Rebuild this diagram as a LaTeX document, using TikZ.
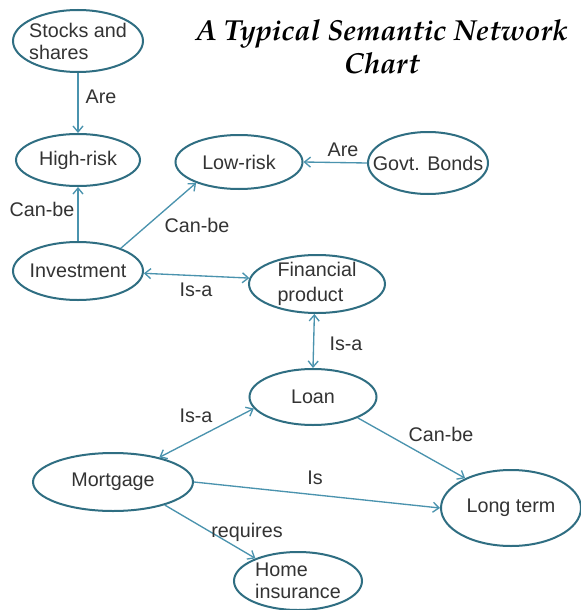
\documentclass[tikz,border=0pt]{standalone}
\usepackage{fontspec}
\newfontfamily\labfont{Liberation Sans}
\newfontfamily\titlefont{TeX Gyre Pagella}
\usetikzlibrary{arrows.meta,shapes.geometric}
\newdimen\pxl \pxl=0.75pt
\definecolor{edgeC}{HTML}{2F6E82}
\definecolor{arrC}{HTML}{4A93AE}
\definecolor{txtC}{HTML}{333333}
\begin{document}
\begin{tikzpicture}[x=0.75pt,y=-0.75pt,
  >={Straight Barb[length=4.5pt,width=7.5pt]},
  concept/.style={ellipse, draw=edgeC, line width=1.5pt, inner sep=0pt},
  lbl/.style={font=\labfont\fontsize{14.8}{16.5}\selectfont, text=txtC, inner sep=0pt, align=left},
  rel/.style={font=\labfont\fontsize{14.8}{16.5}\selectfont, text=txtC, inner sep=0pt},
  link/.style={draw=arrC, line width=1pt, ->},
  both/.style={draw=arrC, line width=1pt, <->}]
\useasboundingbox[fill=white] (0,0) rectangle (581,610);

% title
\node[font=\titlefont\bfseries\itshape\fontsize{21.7}{23.5}\selectfont, align=center, inner sep=0pt] (title) at (382,47) {A Typical Semantic Network\\[1pt]Chart};

% concepts
\node[concept, minimum width=130\pxl, minimum height=62\pxl] (ss) at (78,41) {};
\node[lbl] (ss-t) at (ss) {Stocks and\\shares};
\node[concept, minimum width=124\pxl, minimum height=52\pxl] (hr) at (78,160) {};
\node[lbl] (hr-t) at (hr) {High-risk};
\node[concept, minimum width=127\pxl, minimum height=54\pxl] (lr) at (239,162) {};
\node[lbl] (lr-t) at (lr) {Low-risk};
\node[concept, minimum width=120\pxl, minimum height=62\pxl] (gb) at (428,163) {};
\node[lbl] (gb-t) at (gb) {Govt. Bonds};
\node[concept, minimum width=130\pxl, minimum height=58\pxl] (inv) at (78,271) {};
\node[lbl] (inv-t) at (inv) {Investment};
\node[concept, minimum width=136\pxl, minimum height=58\pxl] (fp) at (317,284) {};
\node[lbl, font=\labfont\fontsize{14.8}{19}\selectfont] (fp-t) at (fp) {Financial\\product};
\node[concept, minimum width=127\pxl, minimum height=56\pxl] (loan) at (313,397) {};
\node[lbl] (loan-t) at (loan) {Loan};
\node[concept, minimum width=160\pxl, minimum height=58\pxl] (mort) at (113,482) {};
\node[lbl] (mort-t) at (mort) {Mortgage};
\node[concept, minimum width=140\pxl, minimum height=76\pxl] (lt) at (511,508) {};
\node[lbl] (lt-t) at (lt) {Long term};
\node[concept, minimum width=128\pxl, minimum height=58\pxl] (hi) at (298,581) {};
\node[lbl] (hi-t) at (hi) {Home\\insurance};

% connectors
\draw[link] (ss.south) -- (hr.north);
\draw[link] (gb.west) -- (lr.east);
\draw[link] (inv.north) -- (hr.south);
\draw[link] (inv.28) -- (lr.206);
\draw[both] (inv.-2) -- (fp.175);
\draw[both] (fp.265) -- (loan.north);
\draw[both] (mort.28) -- (loan.191);
\draw[link] (loan.-25) -- (lt.147);
\draw[link] (mort.east) -- (lt.west);
\draw[link] (mort.-24) -- (hi.152);

% relation labels
\node[rel] (r1) at (101,97) {Are};
\node[rel] (r2) at (343,150) {Are};
\node[rel] (r3) at (42,209) {Can-be};
\node[rel] (r4) at (197,225) {Can-be};
\node[rel] (r5) at (196,290) {Is-a};
\node[rel] (r6) at (346,344) {Is-a};
\node[rel] (r7) at (196,416) {Is-a};
\node[rel] (r8) at (441,434) {Can-be};
\node[rel] (r9) at (315,478) {Is};
\node[rel] (r10) at (247,532) {requires};
\end{tikzpicture}
\end{document}
